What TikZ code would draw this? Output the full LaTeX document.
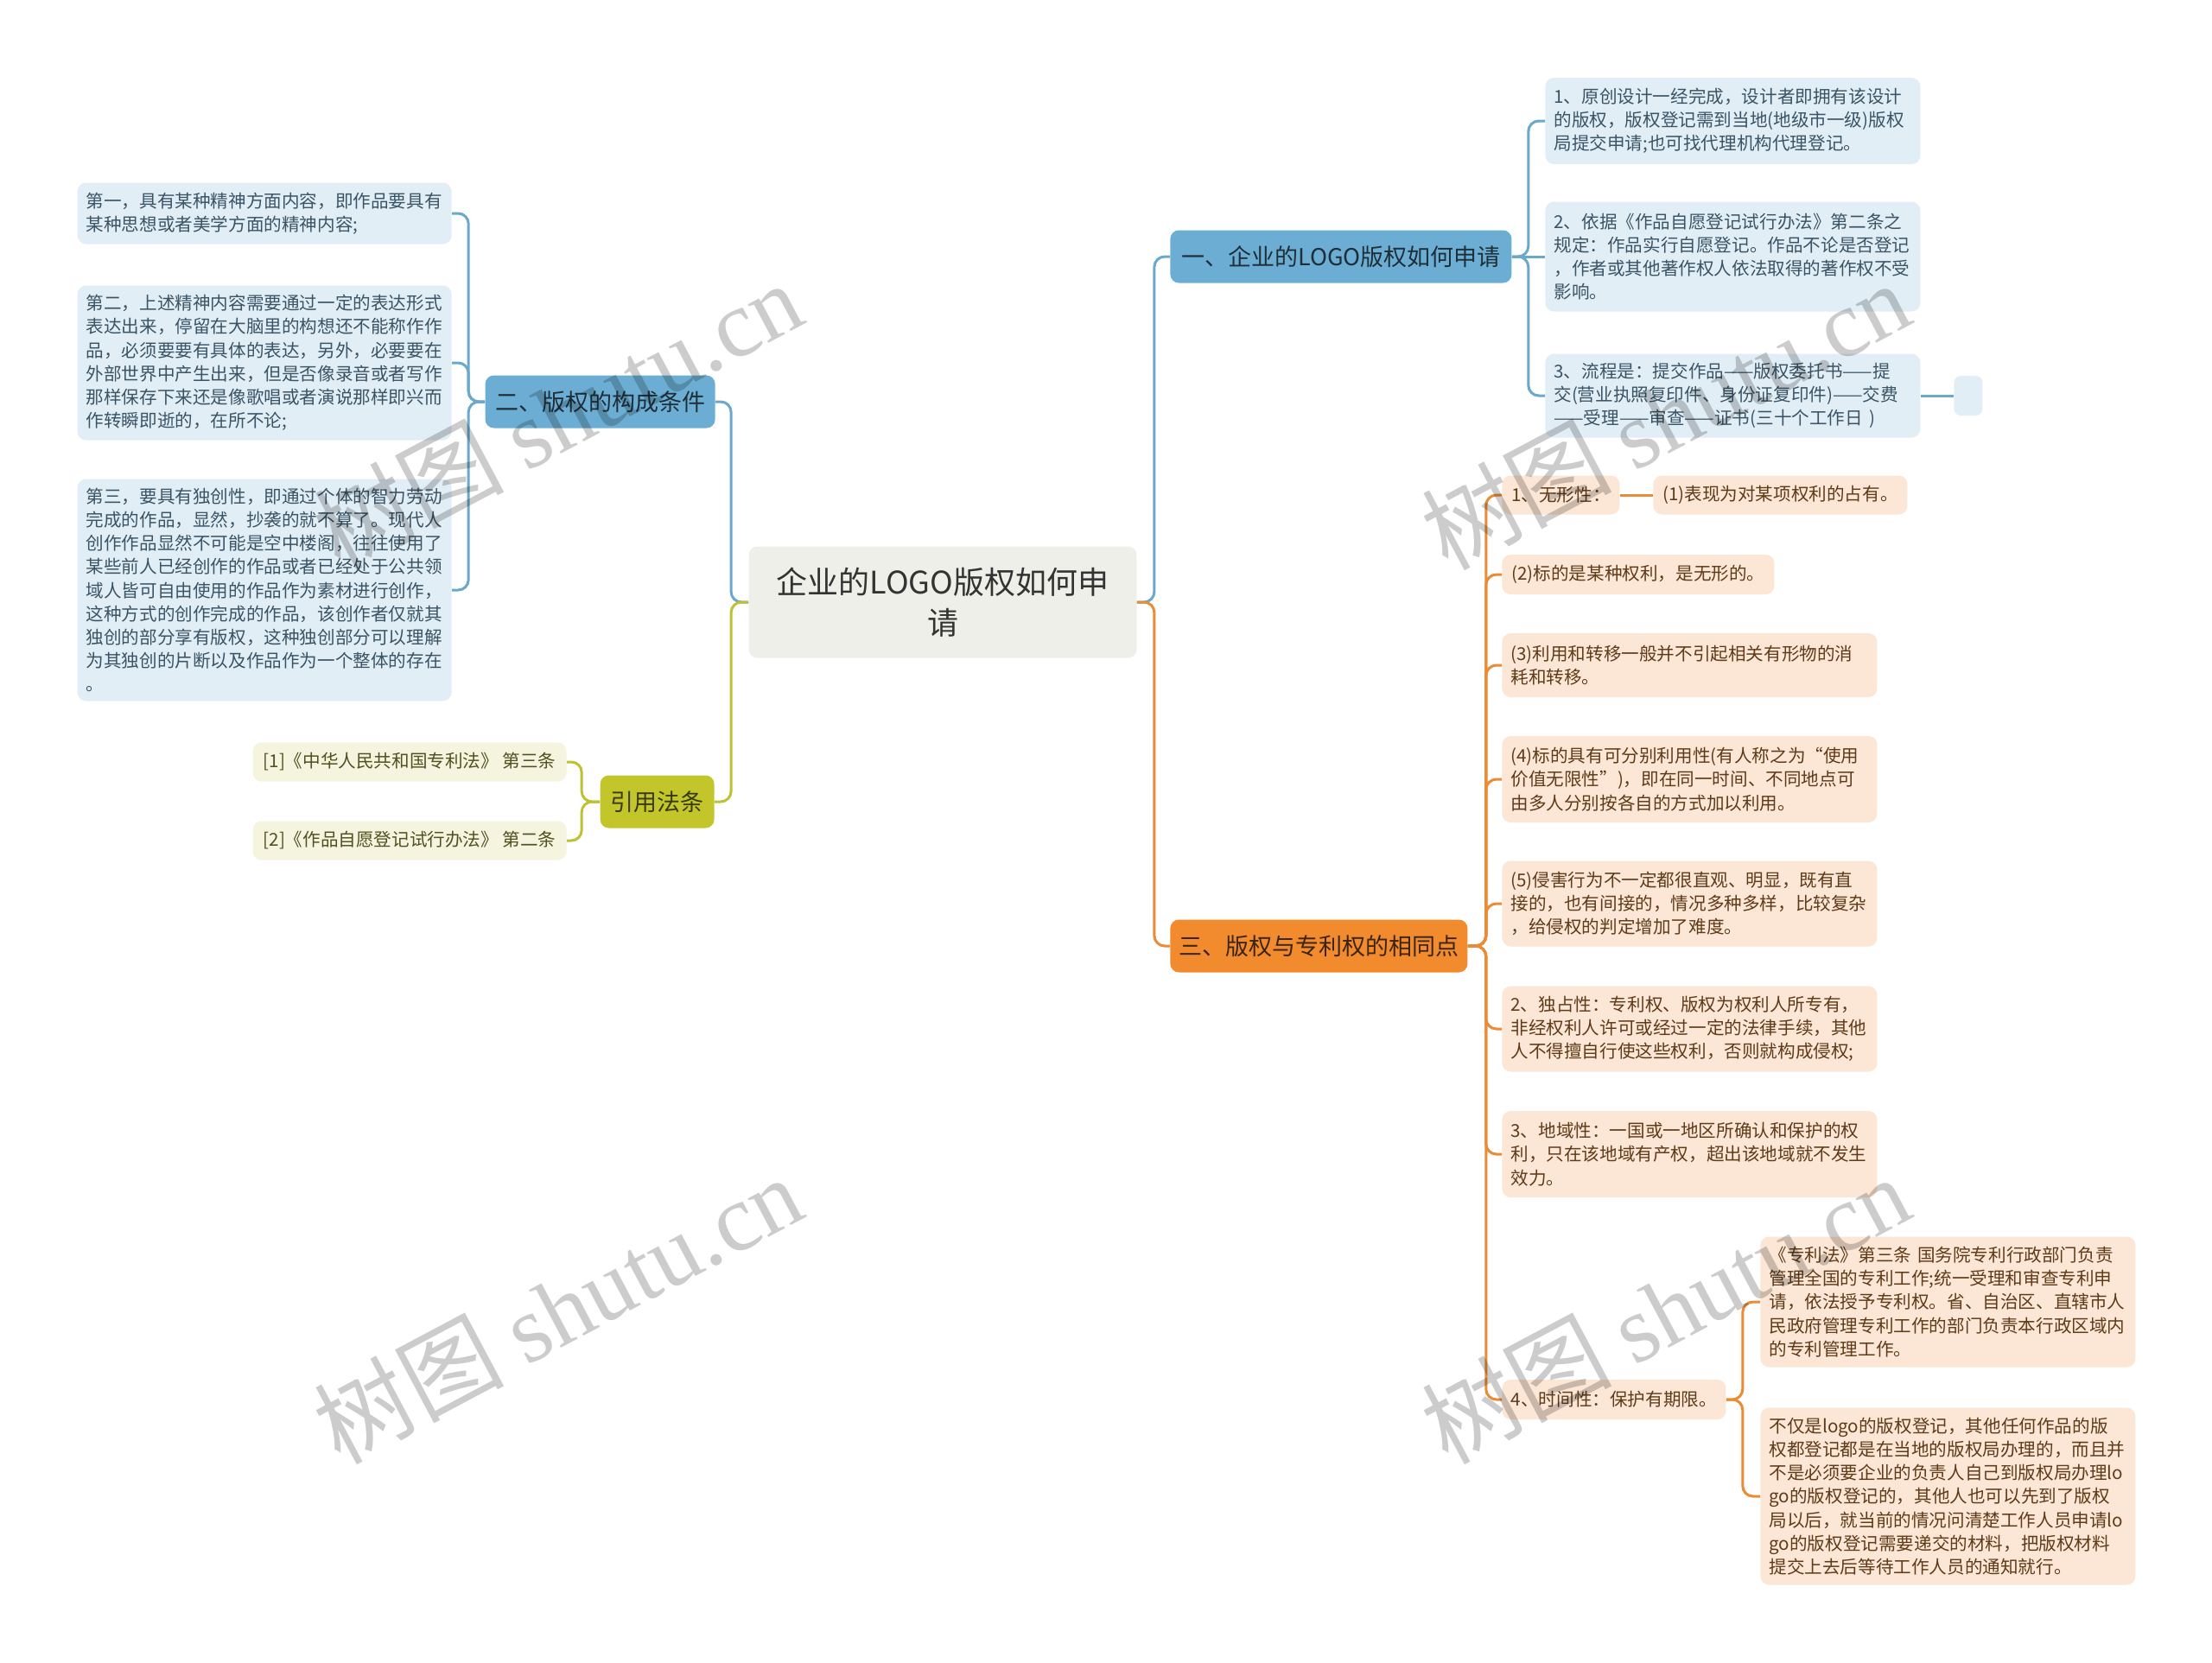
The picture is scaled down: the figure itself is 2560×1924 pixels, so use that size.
\documentclass[tikz,border=0pt]{standalone}
\usepackage{fontspec}
\setmainfont{Noto Sans CJK SC}
\newfontfamily\wmserif{Liberation Serif}
\usetikzlibrary{positioning}

\definecolor{rootfill}{HTML}{EFEFE9}
\definecolor{rootink}{HTML}{333333}
\definecolor{blueline}{HTML}{6AA9CB}
\definecolor{bluefill}{HTML}{6CAED3}
\definecolor{blueleaf}{HTML}{E2EEF6}
\definecolor{blueink}{HTML}{3A5466}
\definecolor{bluetext}{HTML}{1E2F3A}
\definecolor{orangeline}{HTML}{EA8B35}
\definecolor{orangefill}{HTML}{F28A2E}
\definecolor{orangeleaf}{HTML}{FCE6D5}
\definecolor{orangeink}{HTML}{5E3B19}
\definecolor{orangetext}{HTML}{3B2412}
\definecolor{greenline}{HTML}{BCC234}
\definecolor{greenfill}{HTML}{C3C62B}
\definecolor{greenleaf}{HTML}{F5F5DF}
\definecolor{greenink}{HTML}{505020}
\definecolor{greentext}{HTML}{3A3A12}

\tikzset{
  topic/.style={fill=rootfill, text=rootink, rounded corners=5pt, align=center,
    font=\fontsize{18}{23.5}\selectfont, minimum width=224.5pt, minimum height=64.5pt, inner sep=0pt},
  branch/.style={rounded corners=5pt, font=\fontsize{13.5}{16}\selectfont, minimum height=30.5pt, inner sep=0pt},
  bluebranch/.style={branch, fill=bluefill, text=bluetext},
  orangebranch/.style={branch, fill=orangefill, text=orangetext},
  greenbranch/.style={branch, fill=greenfill, text=greentext},
  leaf/.style={rounded corners=5pt, font=\fontsize{10.3}{13.6}\selectfont, align=left, inner xsep=5pt, inner ysep=0pt},
  blueleafbox/.style={leaf, fill=blueleaf, text=blueink},
  orangeleafbox/.style={leaf, fill=orangeleaf, text=orangeink},
  greenleafbox/.style={leaf, fill=greenleaf, text=greenink},
  link/.style={line width=1.5pt, rounded corners=6pt},
  bluelink/.style={link, draw=blueline},
  orangelink/.style={link, draw=orangeline},
  greenlink/.style={link, draw=greenline},
  wmark/.style={rotate=28, text=black, opacity=0.2, font=\fontsize{55}{55}\selectfont}
}

\begin{document}
\begin{tikzpicture}[x=0.5pt, y=-0.5pt]
\fill[white] (0,0) rectangle (2560,1924);
\useasboundingbox (0,0) rectangle (2560,1924);

\node[topic] (root) at (1091,697) {企业的LOGO版权如何申\\请};

\node[bluebranch, anchor=west, minimum width=197.5pt] (apply) at (1354,297) {一、企业的LOGO版权如何申请};
\node[bluebranch, anchor=east, minimum width=133pt] (cond) at (828,465) {二、版权的构成条件};
\node[orangebranch, anchor=west, minimum width=172pt] (same) at (1354,1095) {三、版权与专利权的相同点};
\node[greenbranch, anchor=east, minimum width=66pt] (laws) at (827,928) {引用法条};

\node[blueleafbox, anchor=west, text width=207pt, minimum height=50pt] (apply1) at (1788,140) {1、原创设计一经完成，设计者即拥有该设计\\的版权，版权登记需到当地(地级市一级)版权\\局提交申请;也可找代理机构代理登记。};
\node[blueleafbox, anchor=west, text width=207pt, minimum height=63.5pt] (apply2) at (1788,297) {2、依据《作品自愿登记试行办法》第二条之\\规定：作品实行自愿登记。作品不论是否登记\\，作者或其他著作权人依法取得的著作权不受\\影响。};
\node[blueleafbox, anchor=west, text width=207pt, minimum height=48.5pt] (apply3) at (1788,458) {3、流程是：提交作品——版权委托书——提\\交(营业执照复印件、身份证复印件)——交费\\——受理——审查——证书(三十个工作日 )};
\node[blueleafbox, anchor=west, minimum width=16.5pt, minimum height=23pt, rounded corners=4pt] (apply3x) at (2261,458) {};

\node[blueleafbox, anchor=east, text width=206.5pt, minimum height=35.5pt] (cond1) at (523,247) {第一，具有某种精神方面内容，即作品要具有\\某种思想或者美学方面的精神内容;};
\node[blueleafbox, anchor=east, text width=206.5pt, minimum height=89.5pt] (cond2) at (523,420) {第二，上述精神内容需要通过一定的表达形式\\表达出来，停留在大脑里的构想还不能称作作\\品，必须要要有具体的表达，另外，必要要在\\外部世界中产生出来，但是否像录音或者写作\\那样保存下来还是像歌唱或者演说那样即兴而\\作转瞬即逝的，在所不论;};
\node[blueleafbox, anchor=east, text width=206.5pt, minimum height=128.5pt] (cond3) at (523,683) {第三，要具有独创性，即通过个体的智力劳动\\完成的作品，显然，抄袭的就不算了。现代人\\创作作品显然不可能是空中楼阁，往往使用了\\某些前人已经创作的作品或者已经处于公共领\\域人皆可自由使用的作品作为素材进行创作，\\这种方式的创作完成的作品，该创作者仅就其\\独创的部分享有版权，这种独创部分可以理解\\为其独创的片断以及作品作为一个整体的存在\\。};

\node[greenleafbox, anchor=east, minimum width=181.5pt, minimum height=22.5pt] (law1) at (656,882) {[1]《中华人民共和国专利法》 第三条};
\node[greenleafbox, anchor=east, minimum width=181.5pt, minimum height=22.5pt] (law2) at (656,973) {[2]《作品自愿登记试行办法》 第二条};

\node[orangeleafbox, anchor=west, minimum width=68pt, minimum height=22.5pt] (same1) at (1738,573) {1、无形性：};
\node[orangeleafbox, anchor=west, minimum width=147pt, minimum height=22.5pt] (same1a) at (1913,573) {(1)表现为对某项权利的占有。};
\node[orangeleafbox, anchor=west, minimum width=157.5pt, minimum height=23pt] (same2) at (1738,665) {(2)标的是某种权利，是无形的。};
\node[orangeleafbox, anchor=west, text width=207pt, minimum height=37pt] (same3) at (1738,770) {(3)利用和转移一般并不引起相关有形物的消\\耗和转移。};
\node[orangeleafbox, anchor=west, text width=207pt, minimum height=50pt] (same4) at (1738,902) {(4)标的具有可分别利用性(有人称之为“使用\\价值无限性”)，即在同一时间、不同地点可\\由多人分别按各自的方式加以利用。};
\node[orangeleafbox, anchor=west, text width=207pt, minimum height=49.5pt] (same5) at (1738,1046) {(5)侵害行为不一定都很直观、明显，既有直\\接的，也有间接的，情况多种多样，比较复杂\\，给侵权的判定增加了难度。};
\node[orangeleafbox, anchor=west, text width=207pt, minimum height=49.5pt] (same6) at (1738,1191) {2、独占性：专利权、版权为权利人所专有，\\非经权利人许可或经过一定的法律手续，其他\\人不得擅自行使这些权利，否则就构成侵权;};
\node[orangeleafbox, anchor=west, text width=207pt, minimum height=50pt] (same7) at (1738,1336) {3、地域性：一国或一地区所确认和保护的权\\利，只在该地域有产权，超出该地域就不发生\\效力。};
\node[orangeleafbox, anchor=west, minimum width=129.5pt, minimum height=23pt] (same8) at (1738,1620) {4、时间性：保护有期限。};
\node[orangeleafbox, anchor=west, text width=207pt, minimum height=75.5pt] (same8a) at (2037,1507) {《专利法》第三条 国务院专利行政部门负责\\管理全国的专利工作;统一受理和审查专利申\\请，依法授予专利权。省、自治区、直辖市人\\民政府管理专利工作的部门负责本行政区域内\\的专利管理工作。};
\node[orangeleafbox, anchor=west, text width=207pt, minimum height=102.5pt] (same8b) at (2037,1732) {不仅是logo的版权登记，其他任何作品的版\\权都登记都是在当地的版权局办理的，而且并\\不是必须要企业的负责人自己到版权局办理lo\\go的版权登记的，其他人也可以先到了版权\\局以后，就当前的情况问清楚工作人员申请lo\\go的版权登记需要递交的材料，把版权材料\\提交上去后等待工作人员的通知就行。};

\draw[bluelink] (root.east) -- ++(20,0) |- (apply.west);
\draw[orangelink] (root.east) -- ++(20,0) |- (same.west);
\draw[bluelink] (root.west) -- ++(-20,0) |- (cond.east);
\draw[greenlink] (root.west) -- ++(-20,0) |- (laws.east);

\draw[bluelink] (apply.east) -- ++(19,0) |- (apply1.west);
\draw[bluelink] (apply.east) -- (apply2.west);
\draw[bluelink] (apply.east) -- ++(19,0) |- (apply3.west);
\draw[bluelink] (apply3.east) -- (apply3x.west);

\draw[bluelink] (cond.west) -- ++(-19,0) |- (cond1.east);
\draw[bluelink] (cond.west) -- ++(-19,0) |- (cond2.east);
\draw[bluelink] (cond.west) -- ++(-19,0) |- (cond3.east);

\draw[greenlink] (laws.west) -- ++(-21,0) |- (law1.east);
\draw[greenlink] (laws.west) -- ++(-21,0) |- (law2.east);

\draw[orangelink] (same.east) -- ++(21,0) |- (same1.west);
\draw[orangelink] (same1.east) -- (same1a.west);
\draw[orangelink] (same.east) -- ++(21,0) |- (same2.west);
\draw[orangelink] (same.east) -- ++(21,0) |- (same3.west);
\draw[orangelink] (same.east) -- ++(21,0) |- (same4.west);
\draw[orangelink] (same.east) -- ++(21,0) |- (same5.west);
\draw[orangelink] (same.east) -- ++(21,0) |- (same6.west);
\draw[orangelink] (same.east) -- ++(21,0) |- (same7.west);
\draw[orangelink] (same.east) -- ++(21,0) |- (same8.west);
\draw[orangelink] (same8.east) -- ++(19,0) |- (same8a.west);
\draw[orangelink] (same8.east) -- ++(19,0) |- (same8b.west);

\node[wmark] (wm1) at (645,480) {树图 {\wmserif shutu.cn}};
\node[wmark] (wm2) at (645,1515) {树图 {\wmserif shutu.cn}};
\node[wmark] (wm3) at (1927,480) {树图 {\wmserif shutu.cn}};
\node[wmark] (wm4) at (1927,1515) {树图 {\wmserif shutu.cn}};
\end{tikzpicture}
\end{document}
